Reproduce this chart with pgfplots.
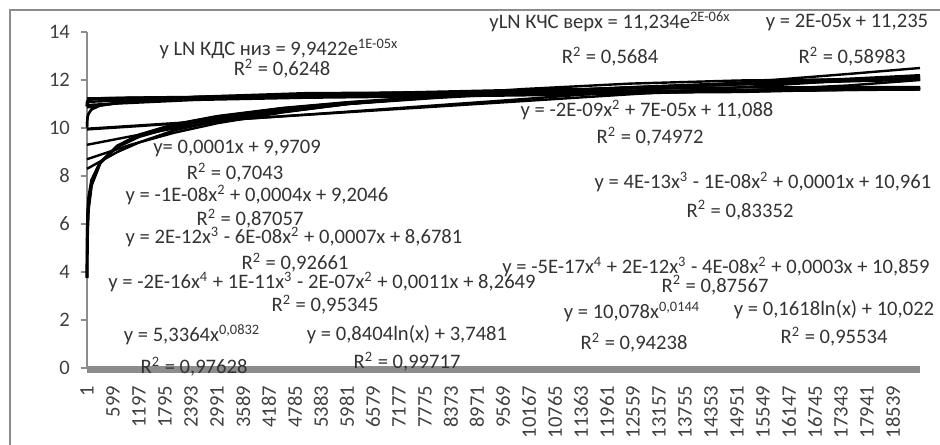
\documentclass[border=0pt]{standalone}
\usepackage{pgfplots}
\pgfplotsset{compat=1.18}
\usepackage{fontspec}
\setmainfont{Carlito}
\newcommand{\af}{\fontsize{10.3}{12}\selectfont}
\begin{document}
\begin{tikzpicture}
\useasboundingbox (-43.5pt,-38pt) rectangle (426.5pt,184pt);
\draw[black!45, line width=1pt] (-38.5pt,-45pt) -- (-38.5pt,179pt) -- (435pt,179pt);
\begin{axis}[
  at={(0,0)}, anchor=south west,
  scale only axis, width=416.5pt, height=168pt,
  xmin=0, xmax=19160, ymin=0, ymax=14,
  axis lines*=left,
  axis line style={black!45, line width=0.8pt},
  x axis line style={draw=none},
  ytick={0,2,4,6,8,10,12,14},
  xtick={1,599,1197,1795,2393,2991,3589,4187,4785,5383,5981,6579,7177,7775,8373,8971,9569,10167,10765,11363,11961,12559,13157,13755,14353,14951,15549,16147,16745,17343,17941,18539},
  xticklabels={1,599,1197,1795,2393,2991,3589,4187,4785,5383,5981,6579,7177,7775,8373,8971,9569,10167,10765,11363,11961,12559,13157,13755,14353,14951,15549,16147,16745,17343,17941,18539},
  xtick style={draw=none},
  ytick style={black!45, line width=0.8pt},
  tick align=outside, major tick length=3pt,
  xticklabel shift=2.5pt,
  /pgf/number format/assume math mode=true,
  yticklabel style={font=\fontsize{10.3}{12}\selectfont, text=black!75, xshift=-2pt},
  xticklabel style={rotate=90, anchor=east, font=\fontsize{10.3}{12}\selectfont, text=black!75},
  clip=false,
  tl/.style={black, line width=1.2pt, no markers},
  dl/.style={black, line width=1.6pt, no markers},
]
% zero series (grey band)
\addplot[black!45, line width=3.5pt, no markers] coordinates {(0,-0.07) (19160,-0.07)};

% --- lower series (KDS niz) data
\addplot[dl] coordinates {(1,3.75) (3,4.67) (10,5.68) (30,6.61) (100,7.62) (300,8.54) (700,9.25) (1200,9.71) (2000,10.14) (3000,10.48) (4500,10.82) (6000,11.06) (8000,11.30) (10000,11.49) (12500,11.68) (15000,11.83) (17500,11.96) (19160,12.03)};
% power trend
\addplot[tl] coordinates {(1,5.34) (3,5.85) (10,6.46) (30,7.08) (100,7.83) (300,8.58) (700,9.20) (1200,9.63) (2000,10.04) (3000,10.39) (4500,10.74) (6000,11.01) (8000,11.27) (10000,11.48) (12500,11.70) (15000,11.88) (17500,12.03) (19160,12.12)};
% log trend
\addplot[tl] coordinates {(1,3.75) (3,4.67) (10,5.68) (30,6.61) (100,7.62) (300,8.54) (700,9.25) (1200,9.71) (2000,10.14) (3000,10.48) (4500,10.82) (6000,11.06) (8000,11.30) (10000,11.49) (12500,11.68) (15000,11.83) (17500,11.96) (19160,12.03)};
% exp trend
\addplot[tl] coordinates {(1,9.94) (1200,10.08) (2000,10.18) (3000,10.30) (4500,10.49) (6000,10.68) (8000,10.94) (10000,11.20) (12500,11.54) (15000,11.89) (17500,12.25) (19160,12.50)};
% linear trend
\addplot[tl] coordinates {(1,9.97) (19160,12.17)};
% poly2
\addplot[tl] coordinates {(1,9.30) (1000,9.65) (2000,9.98) (4000,10.55) (6000,11.00) (8000,11.35) (10000,11.62) (12500,11.85) (15000,11.98) (17500,12.03) (19160,12.02)};
% poly3
\addplot[tl] coordinates {(1,8.70) (500,9.00) (1000,9.30) (2000,9.80) (3000,10.20) (4500,10.65) (6000,11.00) (8000,11.30) (10000,11.50) (12500,11.68) (15000,11.82) (17500,11.98) (19160,12.10)};
% poly4
\addplot[tl] coordinates {(1,8.30) (300,8.60) (700,9.00) (1200,9.40) (2000,9.90) (3000,10.30) (4500,10.70) (6000,11.00) (8000,11.25) (10000,11.45) (12500,11.65) (15000,11.85) (17500,12.05) (19160,12.20)};

% --- upper series (KChS verkh) data
\addplot[dl] coordinates {(1,10.90) (3,11.00) (10,11.10) (30,11.15) (100,11.20) (300,11.22) (1000,11.25) (2000,11.27) (4000,11.30) (6000,11.35) (8000,11.40) (10000,11.45) (12500,11.50) (15000,11.55) (17500,11.60) (19160,11.62)};
% exp
\addplot[tl] coordinates {(1,11.23) (10000,11.46) (19160,11.67)};
% linear
\addplot[tl] coordinates {(1,11.235) (19160,11.62)};
% poly2
\addplot[tl] coordinates {(1,11.09) (2500,11.25) (5000,11.39) (7500,11.49) (10000,11.59) (12500,11.65) (15000,11.69) (17500,11.70) (19160,11.70)};
% poly3
\addplot[tl] coordinates {(1,10.96) (2500,11.17) (5000,11.26) (7500,11.31) (10000,11.36) (12500,11.43) (15000,11.56) (17500,11.77) (19160,12.00)};
% poly4
\addplot[tl] coordinates {(1,10.86) (1000,11.10) (2500,11.30) (5000,11.45) (7500,11.48) (10000,11.47) (12500,11.47) (15000,11.50) (17500,11.60) (19160,11.70)};
% power
\addplot[tl] coordinates {(1,10.08) (3,10.24) (10,10.42) (30,10.58) (100,10.77) (300,10.94) (1000,11.13) (3000,11.31) (6000,11.41) (10000,11.51) (15000,11.57) (19160,11.62)};
% log
\addplot[tl] coordinates {(1,10.02) (3,10.20) (10,10.39) (30,10.57) (100,10.77) (300,10.94) (1000,11.14) (3000,11.32) (6000,11.43) (10000,11.51) (15000,11.58) (19160,11.62)};

% --- trendline labels
\begin{scope}[every node/.style={font=\af, text=black!80, inner sep=0pt}]
\node at (rel axis cs:0.2305,0.9494) {y LN КДС низ = 9,9422e\textsuperscript{1E-05x}};
\node at (rel axis cs:0.2341,0.8899) {R\textsuperscript{2} = 0,6248};
\node at (rel axis cs:0.6279,1.0298) {yLN КЧС верх = 11,234e\textsuperscript{2E-06x}};
\node at (rel axis cs:0.6279,0.9256) {R\textsuperscript{2} = 0,5684};
\node at (rel axis cs:0.9124,1.0298) {y = 2E-05x + 11,235};
\node at (rel axis cs:0.9184,0.9256) {R\textsuperscript{2} = 0,58983};
\node at (rel axis cs:0.6723,0.7679) {y = -2E-09x\textsuperscript{2} + 7E-05x + 11,088};
\node at (rel axis cs:0.6759,0.6875) {R\textsuperscript{2} = 0,74972};
\node at (rel axis cs:0.8115,0.5536) {y = 4E-13x\textsuperscript{3} - 1E-08x\textsuperscript{2} + 0,0001x + 10,961};
\node at (rel axis cs:0.7839,0.4702) {R\textsuperscript{2} = 0,83352};
\node at (rel axis cs:0.1801,0.6548) {y= 0,0001x + 9,9709};
\node at (rel axis cs:0.1777,0.5804) {R\textsuperscript{2} = 0,7043};
\node at (rel axis cs:0.2041,0.5149) {y = -1E-08x\textsuperscript{2} + 0,0004x + 9,2046};
\node at (rel axis cs:0.1957,0.4435) {R\textsuperscript{2} = 0,87057};
\node at (rel axis cs:0.2485,0.3899) {y = 2E-12x\textsuperscript{3} - 6E-08x\textsuperscript{2} + 0,0007x + 8,6781};
\node at (rel axis cs:0.2497,0.3125) {R\textsuperscript{2} = 0,92661};
\node at (rel axis cs:0.2821,0.2560) {y = -2E-16x\textsuperscript{4} + 1E-11x\textsuperscript{3} - 2E-07x\textsuperscript{2} + 0,0011x + 8,2649};
\node at (rel axis cs:0.2857,0.1875) {R\textsuperscript{2} = 0,95345};
\node at (rel axis cs:0.1261,0.0982) {y = 5,3364x\textsuperscript{0,0832}};
\node at (rel axis cs:0.1285,0.0030) {R\textsuperscript{2} = 0,97628};
\node at (rel axis cs:0.3842,0.0982) {y = 0,8404ln(x) + 3,7481};
\node at (rel axis cs:0.3842,0.0179) {R\textsuperscript{2} = 0,99717};
\node at (rel axis cs:0.7551,0.3006) {y = -5E-17x\textsuperscript{4} + 2E-12x\textsuperscript{3} - 4E-08x\textsuperscript{2} + 0,0003x + 10,859};
\node at (rel axis cs:0.7539,0.2470) {R\textsuperscript{2} = 0,87567};
\node at (rel axis cs:0.6543,0.1667) {y = 10,078x\textsuperscript{0,0144}};
\node at (rel axis cs:0.6567,0.0744) {R\textsuperscript{2} = 0,94238};
\node at (rel axis cs:0.8968,0.1726) {y = 0,1618ln(x) + 10,022};
\node at (rel axis cs:0.8968,0.0923) {R\textsuperscript{2} = 0,95534};
\end{scope}
\end{axis}
\end{tikzpicture}
\end{document}
